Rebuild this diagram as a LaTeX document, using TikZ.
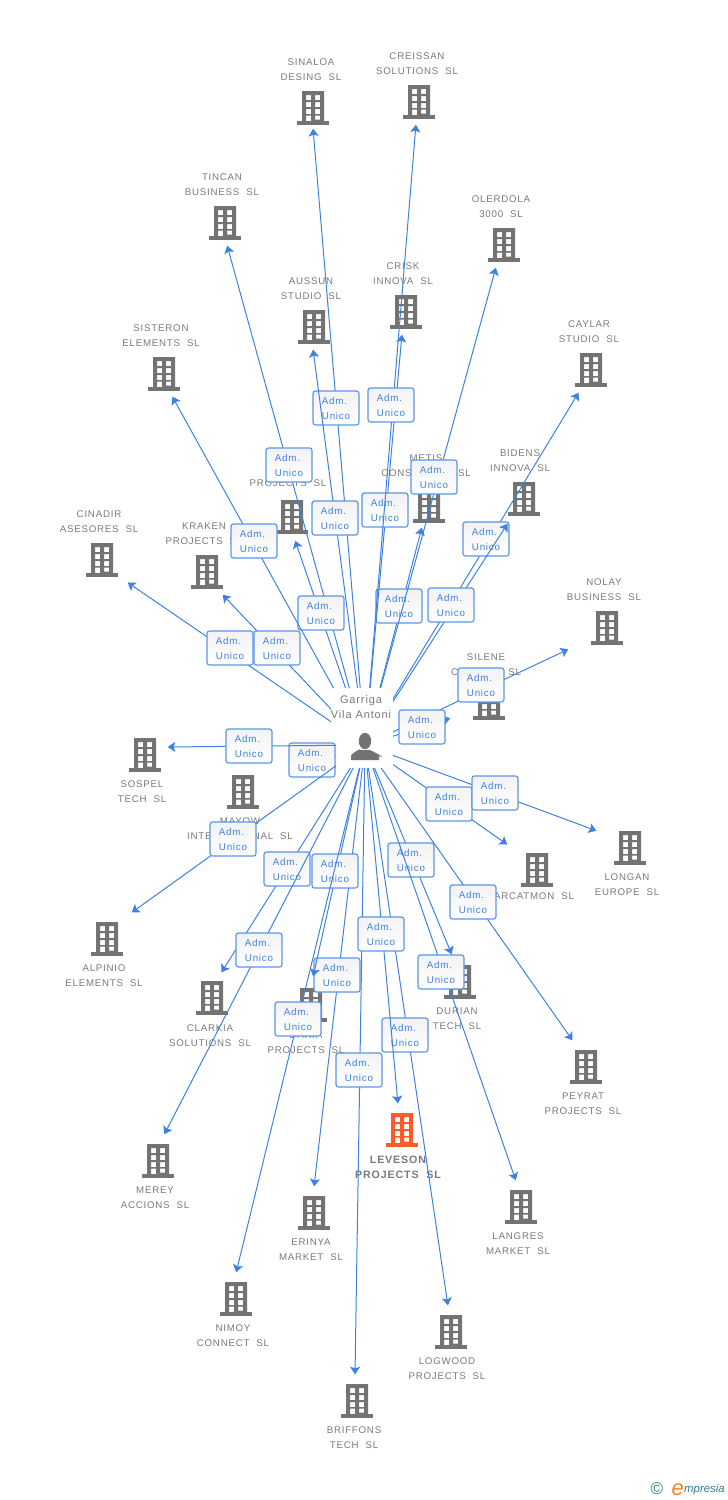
\documentclass[tikz,border=0pt]{standalone}
\usepackage{fontspec}
\setmainfont{Liberation Sans}
\newfontfamily\spacedfont[LetterSpace=8]{Liberation Sans}
\usetikzlibrary{arrows.meta}

\definecolor{bldggray}{HTML}{737373}
\definecolor{bldgorange}{HTML}{FF5A2C}
\definecolor{labelgray}{HTML}{7A7A7A}
\definecolor{linkblue}{HTML}{3D82E3}
\definecolor{boxblue}{HTML}{5B97EA}
\definecolor{logoteal}{HTML}{2F7C99}
\definecolor{logoorange}{HTML}{F58220}

\tikzset{
    labgray/.style={text=labelgray, align=center, inner sep=0pt, yshift=-0.5pt, font=\fontsize{9.7}{15}\selectfont\spacedfont},
    laborange/.style={text=labelgray, align=center, inner sep=0pt, yshift=-0.5pt, font=\fontsize{10.7}{15}\selectfont\spacedfont\bfseries},
    spot/.style={inner sep=0pt, minimum size=1pt},
    adminlink/.style={draw=linkblue, line width=1pt, -{Stealth[length=7.5pt, width=10pt, inset=1.5pt]}},
    adminbox/.style={draw=boxblue, line width=1.2pt, rounded corners=2.5pt, top color=black!5, bottom color=white,
        minimum width=46pt, minimum height=34pt, inner sep=0pt, align=center, text=linkblue,
        font=\fontsize{9.8}{15}\selectfont\spacedfont},
    pics/bldg/.style={code={
        \fill[#1, even odd rule] (-11,-17) rectangle (11,13)
            (-7,-13) rectangle (-2,-8) (2,-13) rectangle (7,-8)
            (-7,-6) rectangle (-2,-1) (2,-6) rectangle (7,-1)
            (-7,1) rectangle (-2,6) (2,1) rectangle (7,6)
            (-7,7.5) rectangle (-2,13) (2,7.5) rectangle (7,11.5);
        \fill[#1] (-16,13) rectangle (16,17);
    }}
}

% nombre/x/y/xflecha/yflecha/xtexto/ytexto/linea1/linea2/xcuadro/ycuadro/color
\newcommand{\companylist}{
    sinaloa/313/108/313/128/311/69.5/SINALOA/DESING~~SL/336/408/gray,
    tincan/225/223/227/245/222/184.5/TINCAN/BUSINESS~~SL/289/465/gray,
    aussun/314/327/313/349/311/288.5/AUSSUN/STUDIO~~SL/335/518/gray,
    projects/292/517/295/540/288/478.5/{}/PROJECTS~~SL/321/613/gray,
    metis/429/506/422/527/426/465.5/METIS/CONSULTING~~SL/399/606/gray,
    crisk/406/312/402/334/403/273.5/CRISK/INNOVA~~SL/385/510/gray,
    creissan/419/102/416/124/417/63.5/CREISSAN/SOLUTIONS~~SL/391/405/gray,
    olerdola/504/245/496/267/501/206.5/OLERDOLA/3000~~SL/434/477/gray,
    sisteron/164/374/172/396/161/335.5/SISTERON/ELEMENTS~~SL/254/541/gray,
    caylar/591/370/579/392/589/331.5/CAYLAR/STUDIO~~SL/486/539/gray,
    bidens/524/499/508/523/520/460.5/BIDENS/INNOVA~~SL/451/605/gray,
    cinadir/102/560/127/582/99/521.5/CINADIR/ASESORES~~SL/230/648/gray,
    kraken/207/572/222/594/204/533.5/KRAKEN/PROJECTS~~SL/277/648/gray,
    nolay/607/628/569/649/604/589.5/NOLAY/BUSINESS~~SL/481/685/gray,
    silene/489/703/451/718/486/664.5/SILENE/CONSULT~~SL/422/727/gray,
    mayow/243/792/293/773/240/828.5/MAYOW/INTERNATIONAL~~SL/312/760/gray,
    sospel/145/755/167/747/142/791.5/SOSPEL/TECH~~SL/249/746/gray,
    alpinio/107/939/131/913/104/975.5/ALPINIO/ELEMENTS~~SL/233/839/gray,
    arcatmon/537/870/508/845/534/891.5/{}/ARCATMON~~SL/449/804/gray,
    longan/630/848/597/831/627/884.5/LONGAN/EUROPE~~SL/495/793/gray,
    clarkia/212/998/221/973/210/1035.5/CLARKIA/SOLUTIONS~~SL/287/869/gray,
    merey/158/1161/164/1135/155/1197.5/MEREY/ACCIONS~~SL/259/950/gray,
    erinya/314/1213/314/1187/311/1249.5/ERINYA/MARKET~~SL/337/975/gray,
    daria/311/1005/313/977/306/1042.5/DARIA/PROJECTS~~SL/335/871/gray,
    nimoy/236/1299/236/1273/233/1335.5/NIMOY/CONNECT~~SL/298/1019/gray,
    briffons/357/1401/355/1375/354/1437.5/BRIFFONS/TECH~~SL/359/1070/gray,
    logwood/451/1332/448/1306/447/1368.5/LOGWOOD/PROJECTS~~SL/405/1035/gray,
    leveson/402/1130/398/1104/398/1166.5/LEVESON/PROJECTS~~SL/381/934/orange,
    durian/460/982/452/955/457/1018.5/DURIAN/TECH~~SL/411/860/gray,
    langres/521/1207/516/1181/518/1243.5/LANGRES/MARKET~~SL/441/972/gray,
    peyrat/586/1067/573/1041/583/1103.5/PEYRAT/PROJECTS~~SL/473/902/gray%
}

\begin{document}
\begin{tikzpicture}[x=1pt, y=-1pt]
    \useasboundingbox (0,0) rectangle (728,1500);
    \node[spot] (garriga) at (365,745) {}; % Centro de la persona

    % Edificios y nombres
    \foreach \n/\x/\y/\ex/\ey/\lx/\ly/\first/\second/\bx/\by/\col in \companylist {
        \node[spot] (b\n) at (\x,\y) {};
        \pic at (b\n) {bldg=bldg\col};
        \node[lab\col] (t\n) at (\lx,\ly) {\first\\\second};
    }

    % Flecha y cuadro de cada empresa, en orden de dibujo
    \begin{scope}[even odd rule]
        \clip (0,0) rectangle (728,1500)
            (331,688) -- (393,688) -- (393,768) -- (336,768) -- (336,735) -- (331,735) -- cycle; % Hueco de la persona
        \foreach \n/\x/\y/\ex/\ey/\lx/\ly/\first/\second/\bx/\by/\col in \companylist {
            \node[spot] (e\n) at (\ex,\ey) {};
            \draw[adminlink] (garriga) -- (e\n);
            \node[adminbox] (a\n) at (\bx,\by) {Adm.\hspace*{3pt}\\Unico};
        }
    \end{scope}

    \node[labgray, font=\fontsize{11}{15}\selectfont\spacedfont] (garrigalab) at (361,707) {Garriga\\Vila Antoni};
    \fill[bldggray] (garriga) ++(0,-4) ellipse [x radius=6.2, y radius=8.2];
    \fill[bldggray] (garriga) ++(-14,15) -- ++(0,-4) .. controls ++(0.5,-3) and ++(3,-3) .. ++(9,-6) -- ++(10,0) .. controls ++(6,3) and ++(8.5,3) .. ++(9,6) -- ++(0,4) -- cycle;

    \node[text=logoteal, inner sep=0pt, font=\fontsize{17}{17}\selectfont] (logoc) at (657,1489) {\textcopyright};
    \node[text=logoteal, inner sep=0pt, anchor=west, font=\fontsize{11.4}{12}\selectfont\itshape] (logot) at (684,1490) {mpresia};
    \node[text=logoorange, inner sep=0pt, anchor=east, font=\fontsize{22}{22}\selectfont\itshape] (logoe) at (logot.west) {e};
\end{tikzpicture}
\end{document}
